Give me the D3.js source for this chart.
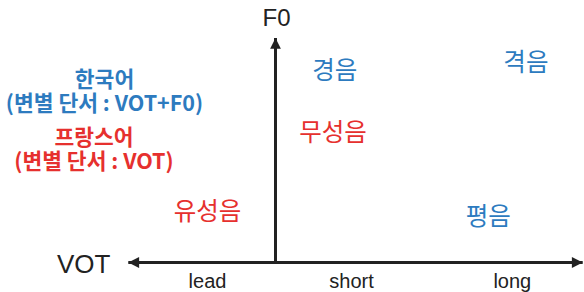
<!DOCTYPE html>
<html>
<head>
<meta charset="utf-8">
<script src="https://cdn.jsdelivr.net/npm/d3@7"></script>
<style>
  body { margin: 0; background: #fff; }
  svg { display: block; }
</style>
</head>
<body>
<svg></svg>
<script>
const [width, height] = [584, 292];

// VOT categories along the horizontal axis
const votCats = ['lead', 'short', 'long'];
const votCatPos = [-0.85, 0.95, 2.96];

// Korean stop categories (blue)
const koLabels = ['경음', '격음', '평음'];
const koVot = [0.74, 3.13, 2.66];
const koF0 = [0.866, 0.902, 0.212];

// French stop categories (red)
const frLabels = ['무성음', '유성음'];
const frVot = [0.72, -0.85];
const frF0 = [0.586, 0.238];

// legend lines
const koLegend = ['한국어', '(변별 단서 : VOT+F0)'];
const frLegend = ['프랑스어', '(변별 단서 : VOT)'];

const blue = '#2d7bbf';
const red = '#e6302e';
const axisColor = '#222';
const kr = '"Noto Sans CJK KR", sans-serif';

const svg = d3.select('svg').attr('width', width).attr('height', height);

const x = d3.scaleLinear().domain([-2, 4]).range([115.5, 595.5]);
const y = d3.scaleLinear().domain([0, 1]).range([262.5, 38]);

const defs = svg.append('defs');
defs.append('marker')
  .attr('id', 'arrow')
  .attr('viewBox', '0 0 10 10')
  .attr('refX', 10).attr('refY', 5)
  .attr('markerWidth', 4).attr('markerHeight', 3.6)
  .attr('markerUnits', 'strokeWidth')
  .attr('orient', 'auto-start-reverse')
  .append('path').attr('d', 'M0,0 L10,5 L0,10 Z').attr('fill', axisColor);

// horizontal VOT axis, arrows both ends
svg.append('line')
  .attr('x1', x(-1.84)).attr('x2', x(3.84))
  .attr('y1', y(0)).attr('y2', y(0))
  .attr('stroke', axisColor).attr('stroke-width', 3)
  .attr('marker-start', 'url(#arrow)')
  .attr('marker-end', 'url(#arrow)');

// vertical F0 axis
svg.append('line')
  .attr('x1', x(0)).attr('x2', x(0))
  .attr('y1', y(0)).attr('y2', y(1))
  .attr('stroke', axisColor).attr('stroke-width', 3)
  .attr('marker-end', 'url(#arrow)');

svg.append('text')
  .attr('x', x(0) + 1).attr('y', 26)
  .attr('text-anchor', 'middle')
  .attr('font-family', '"Liberation Sans", Arial, sans-serif')
  .attr('font-size', 24).attr('fill', axisColor)
  .text('F0');

svg.append('text')
  .attr('x', 57).attr('y', 273)
  .attr('font-family', '"Liberation Sans", Arial, sans-serif')
  .attr('font-size', 26).attr('fill', axisColor)
  .text('VOT');

svg.selectAll('text.cat')
  .data(votCats)
  .join('text')
  .attr('class', 'cat')
  .attr('x', (d, i) => x(votCatPos[i]))
  .attr('y', 288)
  .attr('text-anchor', 'middle')
  .attr('font-family', '"Liberation Sans", Arial, sans-serif')
  .attr('font-size', 20).attr('fill', axisColor)
  .text(d => d);

svg.selectAll('text.ko')
  .data(koLabels)
  .join('text')
  .attr('class', 'ko')
  .attr('x', (d, i) => x(koVot[i]))
  .attr('y', (d, i) => y(koF0[i]))
  .attr('text-anchor', 'middle')
  .attr('dominant-baseline', 'central')
  .attr('font-family', kr)
  .attr('font-size', 24.5).attr('fill', blue)
  .text(d => d);

svg.selectAll('text.fr')
  .data(frLabels)
  .join('text')
  .attr('class', 'fr')
  .attr('x', (d, i) => x(frVot[i]))
  .attr('y', (d, i) => y(frF0[i]))
  .attr('text-anchor', 'middle')
  .attr('dominant-baseline', 'central')
  .attr('font-family', kr)
  .attr('font-size', 24.5).attr('fill', red)
  .text(d => d);

// legend blocks: one text per language, lines as tspans
const legend = svg.append('g')
  .attr('font-family', kr)
  .attr('font-weight', 'bold')
  .attr('font-size', 21.5)
  .attr('text-anchor', 'middle');

const addBlock = (lines, cx, cy, color) => {
  legend.append('text')
    .attr('fill', color)
    .selectAll('tspan')
    .data(lines)
    .join('tspan')
    .attr('x', cx)
    .attr('y', (d, i) => cy + i * 24)
    .attr('dominant-baseline', 'central')
    .text(d => d);
};

addBlock(koLegend, 104.5, 77, blue);
addBlock(frLegend, 94, 135.5, red);
</script>
</body>
</html>
